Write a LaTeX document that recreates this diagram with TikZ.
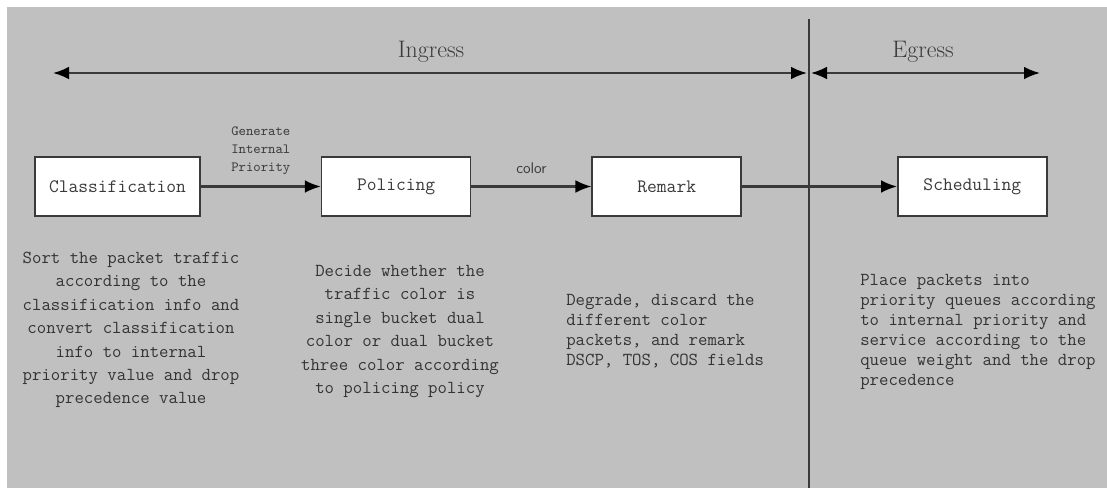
\documentclass[tikz,border=0pt]{standalone}
\usepackage{fontspec}
\usetikzlibrary{positioning, arrows.meta}

\definecolor{panelgray}{HTML}{C0C0C0}
\definecolor{inkgray}{HTML}{3A3A3A}

\begin{document}
\begin{tikzpicture}[x=0.025cm, y=-0.025cm]
        \tikzset{
            >={Latex[length=4mm, width=3.2mm, color=black]}, % filled arrow heads
            stage/.style={draw=inkgray, line width=1.1pt, fill=white, minimum width=3.725cm, minimum height=1.475cm, inner sep=0pt, text=inkgray, font=\ttfamily\fontsize{13.5}{16}\selectfont}, % the four boxes
            flow/.style={->, line width=1.5pt, draw=inkgray}, % connectors between boxes
            span/.style={<->, line width=1.5pt, draw=inkgray}, % ingress / egress ranges
            note/.style={align=center, inner sep=0pt, text=black!80, font=\ttfamily\fontsize{13}{16.6}\selectfont}, % text under the boxes
            phase/.style={inner sep=0pt, text=inkgray, font=\rmfamily\fontsize{17}{20}\selectfont},
            }

        % background
        \useasboundingbox (0,0) rectangle (1107,488);
        \fill[panelgray] (7,7) rectangle (1107,488);

        % border between ingress and egress
        \coordinate (border_top) at (809,19);
        \coordinate (border_bottom) at (809,488);
        \draw[line width=1.3pt, draw=inkgray] (border_top) -- (border_bottom);

        % ingress / egress
        \coordinate (ingress_start) at (53,73);
        \coordinate (ingress_end) at (807,73);
        \coordinate (egress_start) at (811,73);
        \coordinate (egress_end) at (1040,73);
        \node[phase] (ingress_label) at (431,52) {Ingress};
        \node[phase] (egress_label) at (923,52) {Egress};
        \draw[span] (ingress_start) -- (ingress_end);
        \draw[span] (egress_start) -- (egress_end);

        % nodes
        \node[stage, minimum width=4.125cm] (classification_box) at (117.5,186.5) {Classification};
        \node[stage, right=3cm of classification_box] (policing_box) {Policing};
        \node[stage, right=3cm of policing_box] (remark_box) {Remark};
        \node[stage, right=3.875cm of remark_box] (scheduling_box) {Scheduling};

        % paths
        \draw[flow] (classification_box) -- node[above=0.27cm, align=center, inner sep=0pt, text=inkgray, font=\ttfamily\fontsize{10}{12.8}\selectfont] {Generate\\Internal\\Priority} (policing_box);
        \draw[flow] (policing_box) -- node[above=0.3cm, inner sep=0pt, text=inkgray, font=\sffamily\fontsize{11}{13}\selectfont] {color} (remark_box);
        \draw[flow] (remark_box) -- (scheduling_box);

        % notes
        \node[note] (classification_note) at (131,330) {Sort the packet traffic\\according to the\\classification info and\\convert classification\\info to internal\\priority value and drop\\precedence value};
        \node[note] (policing_note) at (400,331.5) {Decide whether the\\traffic color is\\single bucket dual\\color or dual bucket\\three color according\\to policing policy};
        \node[note, align=left, anchor=west, font=\ttfamily\fontsize{13}{14.2}\selectfont] (remark_note) at (566,331) {Degrade, discard the\\different color\\packets, and remark\\DSCP, TOS, COS fields};
        \node[note, align=left, anchor=west, font=\ttfamily\fontsize{13}{14.2}\selectfont] (scheduling_note) at (860,332) {Place packets into\\priority queues according\\to internal priority and\\service according to the\\queue weight and the drop\\precedence};
\end{tikzpicture}
\end{document}
